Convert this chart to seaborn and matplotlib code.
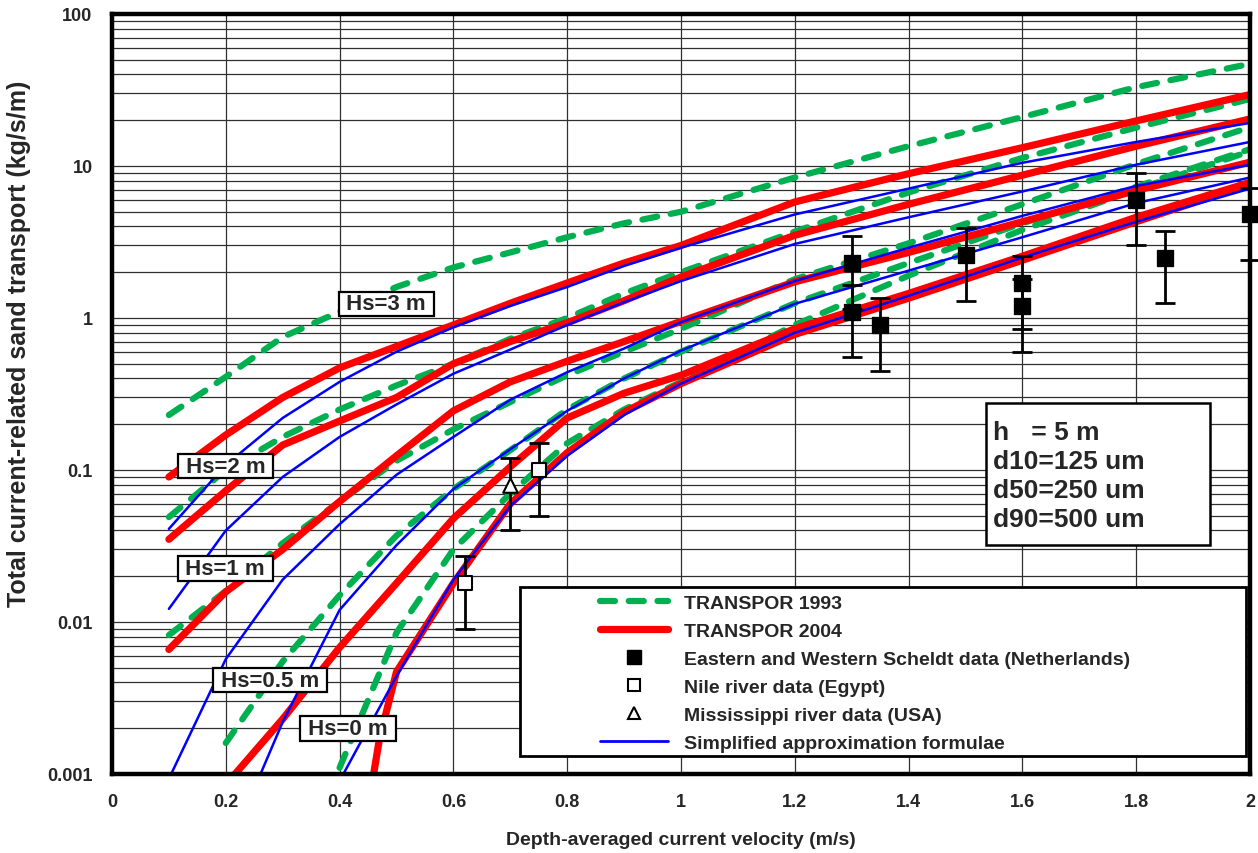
import numpy as np
import seaborn as sns
import matplotlib.pyplot as plt
from matplotlib.lines import Line2D
from matplotlib.patches import Rectangle

nan = np.nan

# velocity grid (m/s) shared by most curves
V = [0.1, 0.2, 0.3, 0.4, 0.5, 0.6, 0.7, 0.8, 0.9, 1.0, 1.2, 1.4, 1.6, 1.8, 2.0]

# TRANSPOR 1993 (kg/s/m)
G_HS3 = [0.23, 0.41, 0.75, 1.1, 1.6, 2.15, 2.7, 3.4, 4.2, 5.0, 8.4, 13.5, 21, 33, 47]
G_HS2 = [0.049, 0.10, 0.165, 0.25, 0.36, 0.50, 0.73, 1.0, 1.45, 2.0, 3.7, 6.7, 11.3, 17.9, 27.6]
G_HS1 = [0.0082, 0.016, 0.033, 0.062, 0.115, 0.185, 0.28, 0.42, 0.6, 0.85, 1.8, 3.1, 5.6, 10.3, 18]
G_HS05 = [nan, 0.0016, 0.0055, 0.015, 0.037, 0.075, 0.135, 0.25, 0.4, 0.6, 1.25, 2.3, 4.2, 7.3, 12.9]
G_HS0 = [nan, nan, nan, 0.0011, 0.0085, 0.03, 0.07, 0.15, 0.25, 0.38, 0.9, 1.9, 3.8, 7.0, 12.5]

# TRANSPOR 2004
R_HS3 = [0.09, 0.17, 0.30, 0.47, 0.65, 0.9, 1.25, 1.7, 2.3, 3.0, 5.8, 8.9, 13.2, 19.8, 29.5]
R_HS2 = [0.035, 0.073, 0.146, 0.21, 0.30, 0.50, 0.70, 0.93, 1.3, 1.86, 3.5, 5.6, 8.7, 13.5, 20.4]
R_HS1 = [0.0066, 0.0158, 0.03, 0.062, 0.124, 0.245, 0.38, 0.52, 0.7, 0.95, 1.73, 2.7, 4.3, 6.9, 10.6]
R_HS05 = [nan, 0.00085, 0.0023, 0.0068, 0.018, 0.048, 0.105, 0.22, 0.32, 0.42, 0.85, 1.45, 2.55, 4.6, 7.8]
V_R0 = [0.45, 0.47, 0.5, 0.6, 0.7, 0.8, 0.9, 1.0, 1.2, 1.4, 1.6, 1.8, 2.0]
R_HS0 = [0.0006, 0.0017, 0.0047, 0.018, 0.06, 0.13, 0.24, 0.37, 0.78, 1.35, 2.4, 4.3, 7.6]

# simplified approximation formulae
B_HS3 = [0.041, 0.108, 0.22, 0.38, 0.6, 0.87, 1.2, 1.6, 2.2, 2.9, 4.8, 7.1, 10.5, 14.4, 19.2]
B_HS2 = [0.0122, 0.04, 0.09, 0.165, 0.27, 0.43, 0.62, 0.9, 1.27, 1.75, 3.07, 4.6, 6.8, 10.2, 14.4]
B_HS1 = [0.00093, 0.0057, 0.019, 0.044, 0.093, 0.165, 0.29, 0.44, 0.63, 0.94, 1.75, 2.9, 4.7, 7.4, 10.2]
V_B05 = [0.25, 0.3, 0.4, 0.5, 0.6, 0.7, 0.8, 0.9, 1.0, 1.2, 1.4, 1.6, 1.8, 2.0]
B_HS05 = [0.0008, 0.0022, 0.012, 0.032, 0.075, 0.137, 0.245, 0.4, 0.61, 1.24, 2.05, 3.4, 5.7, 8.4]
V_B0 = [0.4, 0.5, 0.6, 0.7, 0.8, 0.9, 1.0, 1.2, 1.4, 1.6, 1.8, 2.0]
B_HS0 = [0.0009, 0.0044, 0.019, 0.058, 0.124, 0.23, 0.37, 0.8, 1.4, 2.5, 4.3, 7.1]

# measurements with error bars
SCHELDT_V = [1.3, 1.3, 1.35, 1.5, 1.6, 1.6, 1.8, 1.85, 2.0]
SCHELDT_Q = [2.3, 1.1, 0.9, 2.6, 1.7, 1.2, 6.0, 2.5, 4.8]
SCHELDT_LO = [1.15, 0.55, 0.45, 1.3, 0.85, 0.6, 3.0, 1.25, 2.4]
SCHELDT_HI = [3.45, 1.65, 1.35, 3.9, 2.55, 1.8, 9.0, 3.75, 7.2]
NILE_V = [0.62, 0.75]
NILE_Q = [0.018, 0.1]
NILE_LO = [0.009, 0.05]
NILE_HI = [0.027, 0.15]
MISS_V = [0.7]
MISS_Q = [0.08]
MISS_LO = [0.04]
MISS_HI = [0.12]

GREEN = "#00b050"
RED = "#ff0000"
BLUE = "#0000ff"

sns.set_style("white")
plt.rcParams["font.family"] = ["Liberation Sans", "DejaVu Sans"]
plt.rcParams["font.weight"] = "bold"

fig = plt.figure(figsize=(12.58, 8.54), dpi=100)
ax = fig.add_axes([112 / 1258, 1 - 775 / 854, 1138 / 1258, 760 / 854])
ax.set_yscale("log")

# green dashed curves first, red on top, blue thin on top
for q in [G_HS3, G_HS2, G_HS1, G_HS05, G_HS0]:
    sns.lineplot(x=V, y=q, ax=ax, color=GREEN, linewidth=4.5, estimator=None, sort=False)
    ln = ax.lines[-1]
    ln.set_dashes((2.4, 2.2))
    ln.set_dash_capstyle("round")

for v, q in [(V, R_HS3), (V, R_HS2), (V, R_HS1), (V, R_HS05), (V_R0, R_HS0)]:
    sns.lineplot(x=v, y=q, ax=ax, color=RED, linewidth=5.2, estimator=None, sort=False)
    ax.lines[-1].set_solid_capstyle("round")

for v, q in [(V, B_HS3), (V, B_HS2), (V, B_HS1), (V_B05, B_HS05), (V_B0, B_HS0)]:
    sns.lineplot(x=v, y=q, ax=ax, color=BLUE, linewidth=1.8, estimator=None, sort=False)

# error bars and data points
def err(xs, qs, lo, hi):
    qs = np.array(qs)
    ax.errorbar(xs, qs, yerr=[qs - np.array(lo), np.array(hi) - qs], fmt="none",
                ecolor="black", elinewidth=2, capsize=7, capthick=2, zorder=3,
                clip_on=False)

err(SCHELDT_V, SCHELDT_Q, SCHELDT_LO, SCHELDT_HI)
err(NILE_V, NILE_Q, NILE_LO, NILE_HI)
err(MISS_V, MISS_Q, MISS_LO, MISS_HI)

sns.scatterplot(x=SCHELDT_V, y=SCHELDT_Q, ax=ax, marker="s", s=140, color="black",
                edgecolor="black", zorder=4, clip_on=False)
sns.scatterplot(x=NILE_V, y=NILE_Q, ax=ax, marker="s", s=110, color="white",
                edgecolor="black", linewidth=1.5, zorder=4)
sns.scatterplot(x=MISS_V, y=MISS_Q, ax=ax, marker="^", s=110, color="white",
                edgecolor="black", linewidth=1.5, zorder=4)

# axes
ax.set_xlim(0, 2)
ax.set_ylim(0.001, 100)
ax.set_xticks(np.arange(0, 2.01, 0.2))
ax.set_xticklabels(["0", "0.2", "0.4", "0.6", "0.8", "1", "1.2", "1.4", "1.6", "1.8", "2"])
ax.set_yticks([0.001, 0.01, 0.1, 1, 10, 100])
ax.set_yticklabels(["0.001", "0.01", "0.1", "1", "10", "100"])
ax.tick_params(axis="both", which="major", labelsize=13, direction="out", length=6,
               width=1, color="black", pad=8)
ax.tick_params(axis="y", which="minor", direction="out", length=6, width=1, color="black")
ax.grid(True, which="major", color="#303030", linewidth=0.9)
ax.grid(True, which="minor", axis="y", color="#303030", linewidth=0.9)
ax.set_axisbelow(True)
for sp in ax.spines.values():
    sp.set_linewidth(3.2)
    sp.set_color("black")
    sp.set_zorder(10)

ax.set_xlabel("Depth-averaged current velocity (m/s)", fontsize=14, fontweight="bold",
              labelpad=15)
ax.set_ylabel("Total current-related sand transport (kg/s/m)", fontsize=18,
              fontweight="bold")
ax.yaxis.set_label_coords(-0.071, 0.568)

# curve labels
for txt, xv, yv in [("Hs=3 m", 0.482, 1.24), ("Hs=2 m", 0.2, 0.106),
                    ("Hs=1 m", 0.199, 0.0224), ("Hs=0.5 m", 0.278, 0.00415),
                    ("Hs=0 m", 0.415, 0.002)]:
    ax.text(xv, yv, " " + txt + " ", fontsize=16, fontweight="bold", ha="center",
            va="center", zorder=8,
            bbox=dict(boxstyle="square,pad=0.08", fc="white", ec="black", lw=1.6))

# parameter box
ax.add_patch(Rectangle((0.768, 0.3013), 0.1969, 0.1867, transform=ax.transAxes,
                       fc="white", ec="black", lw=1.8, zorder=6))
ax.text(0.774, 0.466, "h   = 5 m\nd10=125 um\nd50=250 um\nd90=500 um",
        transform=ax.transAxes, fontsize=19, fontweight="bold", va="top", ha="left",
        linespacing=1.26, zorder=7)

# legend
ax.add_patch(Rectangle((0.3585, 0.0237), 0.638, 0.222, transform=ax.transAxes,
                       fc="white", ec="black", lw=2, zorder=6))
dash_handle = Line2D([], [], color=GREEN, lw=4.5, dash_capstyle="round")
dash_handle.set_dashes((2.4, 2.2))
handles = [
    dash_handle,
    Line2D([], [], color=RED, lw=5.2, solid_capstyle="round"),
    Line2D([], [], ls="none", marker="s", ms=10, mfc="black", mec="black"),
    Line2D([], [], ls="none", marker="s", ms=9, mfc="white", mec="black", mew=1.5),
    Line2D([], [], ls="none", marker="^", ms=8, mfc="white", mec="black", mew=1.5),
    Line2D([], [], color=BLUE, lw=2),
]
labels = ["TRANSPOR 1993", "TRANSPOR 2004",
          "Eastern and Western Scheldt data (Netherlands)", "Nile river data (Egypt)",
          "Mississippi river data (USA)", "Simplified approximation formulae"]
leg = ax.legend(handles, labels, loc="upper left", bbox_to_anchor=(0.4288, 0.236),
                frameon=False, borderpad=0, borderaxespad=0, handlelength=3.5,
                handletextpad=0.82, labelspacing=0.53,
                prop={"weight": "bold", "size": 14})
leg.set_zorder(7)

fig.savefig("out.png", dpi=100)
